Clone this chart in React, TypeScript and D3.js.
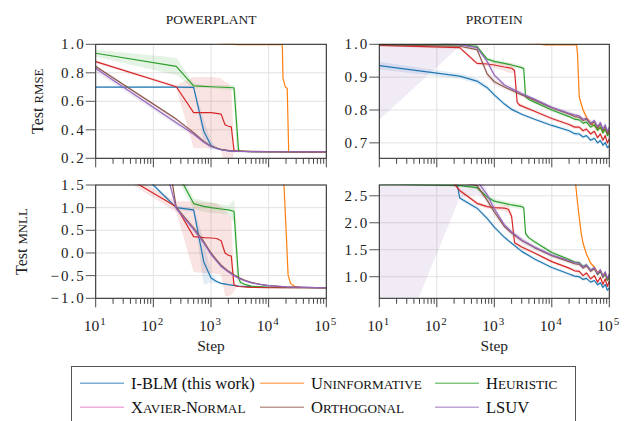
import * as d3 from "d3";
import React from "react";

type Pt = [number, number, number]; // [step, mean, sd]

// series colours
const cIblm = "#1f77b4";
const cUninf = "#ff7f0e";
const cHeur = "#2ca02c";
const cXavier = "#d62728";
const cOrth = "#8c564b";
const cLsuv = "#9467bd";

// ---- POWERPLANT, test RMSE
const ppRmseIblm: Pt[] = [[10, 0.70, 0.005], [250, 0.70, 0.005], [500, 0.698, 0.01], [750, 0.39, 0.08], [1000, 0.29, 0.03], [1250, 0.27, 0.01], [1500, 0.26, 0.005], [2000, 0.252, 0.003], [3000, 0.248, 0.003], [10000, 0.246, 0.003], [100000, 0.245, 0.003]];
const ppRmseUninf: Pt[] = [[10, 1.08, 0], [2500, 1.003, 0], [2750, 0.997, 0], [17250, 0.997, 0], [17750, 0.76, 0.005], [18250, 0.745, 0.005], [19500, 0.70, 0.005], [21000, 0.69, 0.005], [22250, 0.25, 0.003], [23000, 0.245, 0.003], [100000, 0.245, 0.003]];
const ppRmseHeur: Pt[] = [[10, 0.937, 0.025], [250, 0.845, 0.06], [500, 0.708, 0.02], [750, 0.705, 0.01], [1000, 0.702, 0.01], [2500, 0.695, 0.02], [2750, 0.47, 0.2], [3000, 0.26, 0.03], [3250, 0.25, 0.005], [5000, 0.247, 0.003], [100000, 0.245, 0.003]];
const ppRmseXavier: Pt[] = [[10, 0.878, 0.01], [250, 0.702, 0.01], [500, 0.52, 0.25], [750, 0.52, 0.25], [1000, 0.52, 0.25], [1250, 0.515, 0.25], [1500, 0.51, 0.25], [1750, 0.435, 0.3], [2000, 0.425, 0.3], [2250, 0.42, 0.28], [2500, 0.258, 0.02], [2750, 0.25, 0.005], [5000, 0.247, 0.003], [100000, 0.245, 0.003]];
const ppRmseOrth: Pt[] = [[10, 0.845, 0.01], [250, 0.475, 0.01], [500, 0.38, 0.01], [750, 0.318, 0.008], [1000, 0.285, 0.006], [1500, 0.262, 0.004], [2000, 0.255, 0.003], [3000, 0.25, 0.003], [10000, 0.247, 0.003], [100000, 0.246, 0.003]];
const ppRmseLsuv: Pt[] = [[10, 0.83, 0.025], [250, 0.45, 0.02], [500, 0.37, 0.015], [750, 0.313, 0.01], [1000, 0.283, 0.006], [1500, 0.26, 0.004], [2000, 0.252, 0.003], [3000, 0.248, 0.003], [10000, 0.246, 0.003], [100000, 0.245, 0.003]];

// ---- PROTEIN, test RMSE
const prRmseIblm: Pt[] = [[10, 0.935, 0.012], [250, 0.903, 0.008], [500, 0.888, 0.008], [750, 0.868, 0.008], [1000, 0.846, 0.007], [1500, 0.818, 0.006], [2000, 0.802, 0.006], [3000, 0.787, 0.005], [5000, 0.772, 0.005], [10000, 0.753, 0.005], [20000, 0.737, 0.006], [25000, 0.728, 0.006], [30000, 0.727, 0.006], [35000, 0.718, 0.006], [40000, 0.722, 0.006], [47500, 0.708, 0.006], [55000, 0.714, 0.006], [62500, 0.70, 0.006], [70000, 0.707, 0.006], [77500, 0.693, 0.006], [85000, 0.701, 0.006], [92500, 0.686, 0.006], [100000, 0.69, 0.006]];
const prRmseUninf: Pt[] = [[10, 1.03, 0], [5000, 1.004, 0], [7500, 0.998, 0], [27000, 0.998, 0], [28000, 0.97, 0.005], [30000, 0.84, 0.01], [35000, 0.80, 0.008], [40000, 0.778, 0.008], [47500, 0.76, 0.008], [55000, 0.752, 0.008], [62500, 0.741, 0.008], [70000, 0.746, 0.008], [77500, 0.733, 0.008], [85000, 0.741, 0.008], [92500, 0.727, 0.008], [100000, 0.735, 0.008]];
const prRmseHeur: Pt[] = [[10, 0.999, 0.002], [250, 0.998, 0.002], [500, 0.994, 0.004], [750, 0.955, 0.006], [1000, 0.948, 0.006], [1500, 0.942, 0.006], [2000, 0.937, 0.006], [3000, 0.929, 0.006], [3250, 0.926, 0.006], [3500, 0.84, 0.006], [4000, 0.832, 0.005], [5000, 0.824, 0.005], [10000, 0.80, 0.005], [20000, 0.78, 0.006], [25000, 0.772, 0.006], [30000, 0.77, 0.006], [35000, 0.76, 0.006], [40000, 0.763, 0.006], [47500, 0.748, 0.006], [55000, 0.755, 0.006], [62500, 0.738, 0.006], [70000, 0.748, 0.006], [77500, 0.73, 0.006], [85000, 0.742, 0.006], [92500, 0.722, 0.006], [100000, 0.73, 0.006]];
const prRmseXavier: Pt[] = [[10, 0.997, 0.003], [250, 0.99, 0.004], [500, 0.942, 0.006], [750, 0.94, 0.006], [1000, 0.937, 0.008], [1500, 0.931, 0.012], [1750, 0.929, 0.015], [2000, 0.927, 0.015], [2250, 0.92, 0.01], [2500, 0.823, 0.008], [2750, 0.815, 0.006], [5000, 0.796, 0.005], [10000, 0.774, 0.005], [20000, 0.756, 0.006], [25000, 0.748, 0.006], [30000, 0.748, 0.006], [35000, 0.737, 0.006], [40000, 0.742, 0.006], [47500, 0.727, 0.006], [55000, 0.735, 0.006], [62500, 0.716, 0.006], [70000, 0.727, 0.006], [77500, 0.708, 0.006], [85000, 0.722, 0.006], [92500, 0.70, 0.006], [100000, 0.712, 0.006]];
const prRmseOrth: Pt[] = [[10, 0.998, 0.003], [250, 0.994, 0.004], [500, 0.984, 0.006], [750, 0.91, 0.01], [1000, 0.886, 0.008], [1500, 0.87, 0.007], [2000, 0.86, 0.006], [3000, 0.846, 0.006], [5000, 0.83, 0.006], [10000, 0.806, 0.006], [20000, 0.788, 0.007], [25000, 0.78, 0.007], [30000, 0.778, 0.007], [35000, 0.768, 0.007], [40000, 0.772, 0.007], [47500, 0.756, 0.007], [55000, 0.764, 0.007], [62500, 0.745, 0.007], [70000, 0.758, 0.007], [77500, 0.738, 0.007], [85000, 0.75, 0.007], [92500, 0.728, 0.007], [100000, 0.742, 0.007]];
const prRmseLsuv: Pt[] = [[10, 1.02, 0.25], [250, 0.999, 0.004], [500, 0.99, 0.006], [750, 0.948, 0.008], [1000, 0.906, 0.008], [1500, 0.876, 0.007], [2000, 0.865, 0.006], [3000, 0.85, 0.006], [5000, 0.833, 0.006], [10000, 0.808, 0.006], [20000, 0.79, 0.007], [25000, 0.785, 0.007], [30000, 0.782, 0.007], [35000, 0.772, 0.007], [40000, 0.775, 0.007], [47500, 0.76, 0.007], [55000, 0.768, 0.007], [62500, 0.75, 0.007], [70000, 0.762, 0.007], [77500, 0.742, 0.007], [85000, 0.755, 0.007], [92500, 0.735, 0.007], [100000, 0.748, 0.007]];

// ---- POWERPLANT, test MNLL
const ppMnllIblm: Pt[] = [[10, 2.75, 0.02], [250, 1.0, 0.05], [500, 0.95, 0.05], [750, -0.2, 0.5], [1000, -0.55, 0.1], [1250, -0.63, 0.04], [1500, -0.67, 0.02], [2000, -0.70, 0.01], [3000, -0.73, 0.01], [5000, -0.75, 0.01], [10000, -0.76, 0.01], [100000, -0.767, 0.01]];
const ppMnllUninf: Pt[] = [[10, 3.2, 0], [15000, 2.2, 0], [17500, 1.7, 0], [18500, 1.48, 0], [19250, 0.99, 0], [20500, 0.25, 0], [21750, -0.49, 0], [24000, -0.67, 0], [27500, -0.73, 0], [35000, -0.76, 0], [100000, -0.767, 0]];
const ppMnllHeur: Pt[] = [[10, 2.4, 0.1], [250, 1.81, 0.15], [500, 1.09, 0.12], [750, 1.03, 0.12], [1000, 1.0, 0.12], [1500, 0.97, 0.1], [2000, 0.95, 0.1], [2500, 0.92, 0.25], [2750, 0.15, 0.6], [3000, -0.55, 0.15], [3250, -0.65, 0.05], [4000, -0.70, 0.02], [5000, -0.73, 0.01], [10000, -0.76, 0.01], [100000, -0.767, 0.01]];
const ppMnllXavier: Pt[] = [[10, 2.07, 0.05], [250, 1.02, 0.12], [500, 0.36, 0.78], [750, 0.34, 0.78], [1000, 0.33, 0.78], [1250, 0.32, 0.78], [1500, 0.27, 0.75], [1750, 0.0, 0.95], [2000, -0.05, 0.9], [2250, -0.07, 0.85], [2500, -0.70, 0.15], [2750, -0.73, 0.02], [3000, -0.74, 0.01], [5000, -0.76, 0.01], [10000, -0.767, 0.01], [100000, -0.767, 0.01]];
const ppMnllOrth: Pt[] = [[10, 12, 0.1], [250, 1.0, 0.05], [500, 0.55, 0.05], [750, 0.25, 0.04], [1000, 0.0, 0.04], [1250, -0.15, 0.03], [1500, -0.27, 0.03], [2000, -0.40, 0.02], [2500, -0.48, 0.02], [3000, -0.54, 0.02], [4000, -0.61, 0.01], [5000, -0.65, 0.01], [7500, -0.70, 0.01], [10000, -0.72, 0.01], [20000, -0.75, 0.01], [100000, -0.768, 0.01]];
const ppMnllLsuv: Pt[] = [[10, 7.7, 0.1], [250, 0.98, 0.05], [500, 0.52, 0.05], [750, 0.22, 0.04], [1000, -0.03, 0.04], [1250, -0.18, 0.03], [1500, -0.30, 0.03], [2000, -0.42, 0.02], [2500, -0.5, 0.02], [3000, -0.56, 0.02], [4000, -0.62, 0.01], [5000, -0.66, 0.01], [7500, -0.70, 0.01], [10000, -0.72, 0.01], [20000, -0.75, 0.01], [100000, -0.768, 0.01]];

// ---- PROTEIN, test MNLL
const prMnllIblm: Pt[] = [[10, 10.7, 0.05], [250, 2.46, 0.04], [500, 2.27, 0.04], [750, 2.08, 0.04], [1000, 1.92, 0.04], [1500, 1.73, 0.03], [2000, 1.62, 0.03], [3000, 1.47, 0.03], [5000, 1.33, 0.03], [10000, 1.17, 0.03], [20000, 1.05, 0.03], [25000, 1.01, 0.03], [30000, 1.0, 0.03], [35000, 0.95, 0.03], [40000, 0.97, 0.03], [47500, 0.90, 0.03], [55000, 0.93, 0.03], [62500, 0.85, 0.03], [70000, 0.89, 0.03], [77500, 0.80, 0.03], [85000, 0.86, 0.03], [92500, 0.75, 0.03], [100000, 0.79, 0.03]];
const prMnllUninf: Pt[] = [[10, 3.5, 0], [25000, 2.9, 0], [27500, 2.45, 0.02], [30000, 2.1, 0.03], [32500, 1.8, 0.03], [35000, 1.62, 0.03], [40000, 1.42, 0.03], [47500, 1.25, 0.03], [55000, 1.18, 0.03], [62500, 1.08, 0.03], [70000, 1.12, 0.03], [77500, 1.02, 0.03], [85000, 1.08, 0.03], [92500, 0.97, 0.03], [100000, 1.03, 0.03]];
const prMnllHeur: Pt[] = [[10, 2.72, 0.02], [250, 2.69, 0.02], [500, 2.65, 0.04], [750, 2.48, 0.05], [1000, 2.40, 0.05], [1500, 2.36, 0.05], [2000, 2.33, 0.05], [3000, 2.30, 0.05], [3250, 2.28, 0.05], [3500, 1.80, 0.05], [4000, 1.72, 0.04], [5000, 1.65, 0.04], [10000, 1.45, 0.03], [20000, 1.32, 0.03], [25000, 1.27, 0.03], [30000, 1.26, 0.03], [35000, 1.19, 0.03], [40000, 1.22, 0.03], [47500, 1.12, 0.03], [55000, 1.16, 0.03], [62500, 1.04, 0.03], [70000, 1.10, 0.03], [77500, 0.99, 0.03], [85000, 1.05, 0.03], [92500, 0.93, 0.03], [100000, 0.98, 0.03]];
const prMnllXavier: Pt[] = [[10, 4.35, 0.05], [250, 2.6, 0.04], [500, 2.36, 0.04], [750, 2.30, 0.04], [1000, 2.28, 0.04], [1500, 2.27, 0.05], [1750, 2.25, 0.08], [2000, 2.12, 0.08], [2250, 1.63, 0.05], [2500, 1.60, 0.04], [3000, 1.55, 0.04], [5000, 1.44, 0.03], [10000, 1.28, 0.03], [20000, 1.16, 0.03], [25000, 1.11, 0.03], [30000, 1.10, 0.03], [35000, 1.02, 0.03], [40000, 1.07, 0.03], [47500, 0.96, 0.03], [55000, 1.02, 0.03], [62500, 0.90, 0.03], [70000, 0.99, 0.03], [77500, 0.86, 0.03], [85000, 0.96, 0.03], [92500, 0.82, 0.03], [100000, 0.92, 0.03]];
const prMnllOrth: Pt[] = [[10, 2.8, 0.05], [250, 2.75, 0.05], [500, 2.69, 0.06], [750, 2.42, 0.06], [1000, 2.2, 0.06], [1500, 1.93, 0.05], [2000, 1.81, 0.05], [3000, 1.67, 0.05], [5000, 1.54, 0.04], [10000, 1.39, 0.04], [20000, 1.28, 0.04], [25000, 1.24, 0.04], [30000, 1.23, 0.04], [35000, 1.16, 0.04], [40000, 1.20, 0.04], [47500, 1.10, 0.04], [55000, 1.15, 0.04], [62500, 1.04, 0.04], [70000, 1.11, 0.04], [77500, 0.99, 0.04], [85000, 1.07, 0.04], [92500, 0.95, 0.04], [100000, 1.03, 0.04]];
const prMnllLsuv: Pt[] = [[10, 2.9, 4.07], [250, 2.9, 0.44], [500, 2.78, 0.25], [750, 2.52, 0.08], [1000, 2.26, 0.06], [1500, 1.96, 0.05], [2000, 1.83, 0.05], [3000, 1.68, 0.05], [5000, 1.55, 0.04], [10000, 1.40, 0.04], [20000, 1.30, 0.04], [25000, 1.26, 0.04], [30000, 1.25, 0.04], [35000, 1.18, 0.04], [40000, 1.22, 0.04], [47500, 1.12, 0.04], [55000, 1.17, 0.04], [62500, 1.06, 0.04], [70000, 1.13, 0.04], [77500, 1.01, 0.04], [85000, 1.09, 0.04], [92500, 0.97, 0.04], [100000, 1.05, 0.04]];

// tick values
const ppRmseTicks = [0.2, 0.4, 0.6, 0.8, 1.0];
const prRmseTicks = [0.7, 0.8, 0.9, 1.0];
const ppMnllTicks = [-1.0, -0.5, 0.0, 0.5, 1.0, 1.5];
const prMnllTicks = [1.0, 1.5, 2.0, 2.5];
const stepTicks = [10, 100, 1000, 10000, 100000];
const stepExponents = ["1", "2", "3", "4", "5"];

// legend: [text, smallcaps] pieces
const methods = [
  { colour: cIblm, legendColour: cIblm, label: [["I-BLM (this work)", false]] },
  { colour: cUninf, legendColour: cUninf, label: [["U", false], ["NINFORMATIVE", true]] },
  { colour: cHeur, legendColour: cHeur, label: [["H", false], ["EURISTIC", true]] },
  { colour: cXavier, legendColour: "#e377c2", label: [["X", false], ["AVIER-", true], ["N", false], ["ORMAL", true]] },
  { colour: cOrth, legendColour: cOrth, label: [["O", false], ["RTHOGONAL", true]] },
  { colour: cLsuv, legendColour: cLsuv, label: [["LSUV", false]] },
];

const serif = "'Liberation Serif', 'Times New Roman', serif";

const panels = [
  { left: 95.7, right: 326.3, top: 44.3, bottom: 158.3, domain: [0.2, 1.0], ticks: ppRmseTicks, title: "POWERPLANT", yLabel: ["Test ", "RMSE"], yLabelX: 42.7, xLabels: false,
    series: [ppRmseIblm, ppRmseUninf, ppRmseHeur, ppRmseXavier, ppRmseOrth, ppRmseLsuv] },
  { left: 379.3, right: 609.3, top: 44.3, bottom: 158.3, domain: [0.653, 1.0], ticks: prRmseTicks, title: "PROTEIN", yLabel: null, yLabelX: 0, xLabels: false,
    series: [prRmseIblm, prRmseUninf, prRmseHeur, prRmseXavier, prRmseOrth, prRmseLsuv] },
  { left: 95.7, right: 326.3, top: 185, bottom: 298.3, domain: [-1.0, 1.5], ticks: ppMnllTicks, title: null, yLabel: ["Test ", "MNLL"], yLabelX: 26.7, xLabels: true,
    series: [ppMnllIblm, ppMnllUninf, ppMnllHeur, ppMnllXavier, ppMnllOrth, ppMnllLsuv] },
  { left: 379.3, right: 609.3, top: 185, bottom: 298.3, domain: [0.6, 2.7], ticks: prMnllTicks, title: null, yLabel: null, yLabelX: 0, xLabels: true,
    series: [prMnllIblm, prMnllUninf, prMnllHeur, prMnllXavier, prMnllOrth, prMnllLsuv] },
];

function appendCaps(text, parts, size) {
  parts.forEach(([t, small]) => {
    text.append("tspan").style("font-size", (small ? size * 0.8 : size) + "px").text(t);
  });
}

const App = () => {
  const ref = React.useRef<SVGSVGElement>(null);
  React.useEffect(() => {
    const svg = d3.select(ref.current);
    svg.selectAll("*").remove();
    svg.append("rect").attr("width", 624).attr("height", 421).attr("fill", "#fff");

    const fmt = (v) => d3.format(".1f")(v).replace("-", "\u2212");

    panels.forEach((p, i) => {
      const x = d3.scaleLog().domain([10, 100000]).range([p.left, p.right]);
      const y = d3.scaleLinear().domain(p.domain).range([p.bottom, p.top]);
      const g = svg.append("g");

      // grid
      g.selectAll(".vg").data(stepTicks).enter().append("line")
        .attr("x1", (d) => x(d)).attr("x2", (d) => x(d))
        .attr("y1", p.top).attr("y2", p.bottom)
        .attr("stroke", "#e2e2e2").attr("stroke-width", 1);
      g.selectAll(".hg").data(p.ticks).enter().append("line")
        .attr("x1", p.left).attr("x2", p.right)
        .attr("y1", (d) => y(d)).attr("y2", (d) => y(d))
        .attr("stroke", "#e2e2e2").attr("stroke-width", 1);

      const clipId = "clip-" + i;
      svg.append("clipPath").attr("id", clipId).append("rect")
        .attr("x", p.left).attr("y", p.top - 0.5)
        .attr("width", p.right - p.left).attr("height", p.bottom - p.top + 0.5);
      const plot = g.append("g").attr("clip-path", `url(#${clipId})`);

      const area = d3.area<Pt>().x((d) => x(d[0])).y0((d) => y(d[1] - d[2])).y1((d) => y(d[1] + d[2]));
      const line = d3.line<Pt>().x((d) => x(d[0])).y((d) => y(d[1]));

      p.series.forEach((s, j) => {
        plot.append("path").attr("d", area(s)).attr("fill", methods[j].colour).attr("fill-opacity", 0.13);
      });
      p.series.forEach((s, j) => {
        plot.append("path").attr("d", line(s)).attr("fill", "none")
          .attr("stroke", methods[j].colour).attr("stroke-width", 1.2).attr("stroke-linejoin", "round");
      });

      // frame
      g.append("rect").attr("x", p.left).attr("y", p.top)
        .attr("width", p.right - p.left).attr("height", p.bottom - p.top)
        .attr("fill", "none").attr("stroke", "#222").attr("stroke-width", 1);

      // y ticks (outward)
      g.selectAll(".yt").data(p.ticks).enter().append("line")
        .attr("x1", p.left - 10).attr("x2", p.left)
        .attr("y1", (d) => y(d)).attr("y2", (d) => y(d))
        .attr("stroke", "#555").attr("stroke-width", 1);
      g.selectAll(".yl").data(p.ticks).enter().append("text")
        .attr("x", p.left - 10).attr("y", (d) => y(d) + 5)
        .attr("text-anchor", "end").style("font-family", serif).style("font-size", "15px")
        .style("letter-spacing", "2px")
        .attr("fill", "#222").text((d) => fmt(d));

      // x ticks (outward), major + minor
      g.selectAll(".xt").data(stepTicks).enter().append("line")
        .attr("x1", (d) => x(d)).attr("x2", (d) => x(d))
        .attr("y1", p.bottom).attr("y2", p.bottom + 9)
        .attr("stroke", "#444").attr("stroke-width", 1);
      const minor: number[] = [];
      for (let k = 1; k < 5; k++) for (let m = 2; m < 10; m++) minor.push(m * 10 ** k);
      g.selectAll(".xm").data(minor).enter().append("line")
        .attr("x1", (d) => x(d)).attr("x2", (d) => x(d))
        .attr("y1", p.bottom).attr("y2", p.bottom + 5.5)
        .attr("stroke", "#444").attr("stroke-width", 1);

      if (p.xLabels) {
        stepTicks.forEach((t, k) => {
          const tx = g.append("text").attr("x", x(t) - 1).attr("y", p.bottom + 33)
            .attr("text-anchor", "middle").style("font-family", serif).style("font-size", "15.5px").attr("fill", "#222");
          tx.append("tspan").text("10");
          tx.append("tspan").attr("dy", -6.5).attr("dx", 1).style("font-size", "11px").text(stepExponents[k]);
        });
        g.append("text").attr("x", (p.left + p.right) / 2).attr("y", p.bottom + 53)
          .attr("text-anchor", "middle").style("font-family", serif).style("font-size", "15.5px")
          .attr("fill", "#222").text("Step");
      }

      if (p.title) {
        g.append("text").attr("x", (p.left + p.right) / 2).attr("y", 23.5)
          .attr("text-anchor", "middle").style("font-family", serif).style("font-size", "13.5px")
          .attr("fill", "#222").text(p.title);
      }

      if (p.yLabel) {
        const t = g.append("text")
          .attr("transform", `translate(${p.yLabelX},${(p.top + p.bottom) / 2}) rotate(-90)`)
          .attr("text-anchor", "middle").style("font-family", serif).attr("fill", "#222");
        appendCaps(t, [[p.yLabel[0], false], [p.yLabel[1], true]], 16);
      }
    });

    // legend
    const lg = svg.append("g");
    lg.append("rect").attr("x", 71.5).attr("y", 366.5).attr("width", 504).attr("height", 70)
      .attr("fill", "#fff").attr("stroke", "#555").attr("stroke-width", 1);
    const colX = [80, 260, 435];
    const rowY = [383.3, 407.3];
    methods.forEach((m, i) => {
      const cx = colX[i % 3];
      const cy = rowY[Math.floor(i / 3)];
      lg.append("line").attr("x1", cx).attr("x2", cx + 44).attr("y1", cy).attr("y2", cy)
        .attr("stroke", m.legendColour).attr("stroke-opacity", 0.6).attr("stroke-width", 1.5);
      const t = lg.append("text").attr("x", cx + 51).attr("y", cy + 5.5)
        .style("font-family", serif).attr("fill", "#111");
      appendCaps(t, m.label, 16.5);
    });
  }, []);

  return <svg ref={ref} width={624} height={421} style={{ position: "absolute", left: 0, top: 0 }} />;
};

export default App;
